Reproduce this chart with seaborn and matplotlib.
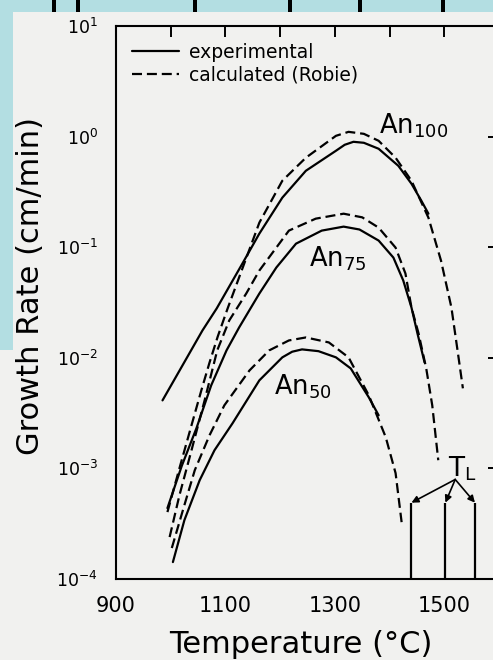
import numpy as np
import pandas as pd
import matplotlib
matplotlib.use("Agg")
import matplotlib.pyplot as plt
import seaborn as sns
from matplotlib.lines import Line2D
from matplotlib.patches import Rectangle
from matplotlib.ticker import FixedLocator, NullLocator, FixedFormatter

# ---------------- data (temperature in °C, log10 of growth rate in cm/min) -------------
an100_exp_T = [985, 1058, 1084, 1131, 1162, 1204, 1247, 1302, 1318, 1334, 1353, 1380, 1416, 1440, 1458, 1471]
an100_exp_log = [-2.385, -1.753, -1.554, -1.148, -0.877, -0.552, -0.309, -0.128, -0.074, -0.047, -0.056, -0.110, -0.264, -0.426, -0.579, -0.697]

an100_calc_T = [994, 1016, 1038, 1056, 1071, 1086, 1104, 1131, 1162, 1204, 1247, 1302, 1325, 1353, 1380, 1411, 1440, 1471, 1494, 1513, 1525, 1534]
an100_calc_log = [-3.395, -2.998, -2.610, -2.294, -2.042, -1.807, -1.554, -1.193, -0.778, -0.399, -0.191, 0.007, 0.043, 0.025, -0.038, -0.191, -0.399, -0.733, -1.121, -1.545, -1.960, -2.276]

an75_exp_T = [994, 1020, 1047, 1074, 1102, 1125, 1162, 1193, 1229, 1276, 1316, 1345, 1380, 1407, 1425, 1440, 1451, 1464]
an75_exp_log = [-3.359, -2.980, -2.637, -2.249, -1.933, -1.726, -1.419, -1.184, -0.968, -0.850, -0.814, -0.840, -0.940, -1.094, -1.301, -1.545, -1.780, -2.042]

an75_calc_T = [998, 1016, 1038, 1062, 1085, 1107, 1138, 1162, 1216, 1265, 1316, 1350, 1380, 1411, 1429, 1440, 1453, 1467, 1478, 1489]
an75_calc_log = [-3.621, -3.242, -2.836, -2.384, -1.933, -1.662, -1.419, -1.211, -0.850, -0.742, -0.697, -0.730, -0.823, -1.004, -1.238, -1.545, -1.780, -2.096, -2.430, -2.926]

an50_exp_T = [1004, 1025, 1053, 1080, 1113, 1162, 1204, 1222, 1240, 1270, 1302, 1329, 1362, 1380]
an50_exp_log = [-3.847, -3.468, -3.106, -2.836, -2.592, -2.204, -1.996, -1.945, -1.924, -1.940, -1.996, -2.096, -2.357, -2.520]

an50_calc_T = [1002, 1025, 1044, 1071, 1098, 1144, 1180, 1216, 1247, 1289, 1325, 1362, 1393, 1411, 1422]
an50_calc_log = [-3.720, -3.332, -3.016, -2.700, -2.430, -2.114, -1.933, -1.843, -1.816, -1.861, -1.996, -2.339, -2.718, -3.043, -3.486]

liquidus_T = [1440, 1502, 1556]
liquidus_top = 4.9e-4

x_ticks = [900, 1000, 1100, 1200, 1300, 1400, 1500, 1600]
x_ticklabels = ["900", "", "1100", "", "1300", "", "1500", ""]
y_ticks = [1e-4, 1e-3, 1e-2, 1e-1, 1e0, 1e1]

# ---------------- build long table ----------------
curves = [
    ("An100", "experimental", an100_exp_T, an100_exp_log),
    ("An100", "calculated", an100_calc_T, an100_calc_log),
    ("An75", "experimental", an75_exp_T, an75_exp_log),
    ("An75", "calculated", an75_calc_T, an75_calc_log),
    ("An50", "experimental", an50_exp_T, an50_exp_log),
    ("An50", "calculated", an50_calc_T, an50_calc_log),
]
frames = []
for comp, kind, T, lg in curves:
    frames.append(pd.DataFrame({"T": T, "rate": 10 ** np.array(lg), "comp": comp, "kind": kind}))
df = pd.concat(frames, ignore_index=True)

# ---------------- style ----------------
sns.set_theme(style="white")
plt.rcParams["font.family"] = ["DejaVu Sans"]
plt.rcParams["mathtext.fontset"] = "dejavusans"
for k in ["text.color", "axes.labelcolor", "xtick.color", "ytick.color", "axes.edgecolor"]:
    plt.rcParams[k] = "black"

paper = "#f1f1ef"
W, H = 493, 660
fig = plt.figure(figsize=(W / 100, H / 100), dpi=100, facecolor=paper)
L_px, R_px, T_px, B_px = 116, 499, 26, 579
ax = fig.add_axes([L_px / W, 1 - B_px / H, (R_px - L_px) / W, (B_px - T_px) / H])
ax.set_facecolor(paper)

lw = 1.6
dash = (0, (4.5, 2.2))
for (comp, kind), sub in df.groupby(["comp", "kind"], sort=False):
    sns.lineplot(data=sub, x="T", y="rate", ax=ax, sort=False, estimator=None,
                 color="black", lw=lw,
                 linestyle="-" if kind == "experimental" else dash,
                 legend=False)

ax.set_yscale("log")
ax.set_xlim(900, 1600)
ax.set_ylim(1e-4, 1e1)

ax.xaxis.set_major_locator(FixedLocator(x_ticks))
ax.xaxis.set_major_formatter(FixedFormatter(x_ticklabels))
ax.xaxis.set_minor_locator(NullLocator())
ax.yaxis.set_major_locator(FixedLocator(y_ticks))
ax.yaxis.set_minor_locator(NullLocator())

ax.tick_params(axis="both", which="major", direction="in", length=8, width=1.4,
               top=True, right=True, color="black", labelcolor="black")
ax.tick_params(axis="x", labelsize=15, pad=12)
ax.tick_params(axis="y", labelsize=12.5, pad=13)
for s in ax.spines.values():
    s.set_color("black")
    s.set_linewidth(1.5)

ax.set_xlabel("Temperature (°C)", fontsize=22, color="black")
ax.set_ylabel("Growth Rate (cm/min)", fontsize=22, color="black")
ax.xaxis.set_label_coords(0.483, -0.093)
ax.yaxis.set_label_coords(-0.185, 0.53)

# legend
handles = [Line2D([], [], color="black", lw=lw, ls="-"),
           Line2D([], [], color="black", lw=lw, ls=dash)]
leg = ax.legend(handles, ["experimental", "calculated (Robie)"], loc="upper left",
                bbox_to_anchor=(0.042, 0.97), frameon=False, fontsize=13.5,
                handlelength=2.5, handletextpad=0.55, borderpad=0, borderaxespad=0,
                labelspacing=0.2)
for t in leg.get_texts():
    t.set_color("black")

# composition labels
ax.text(1380, 10 ** 0.10, "An$_{100}$", fontsize=18.5, ha="left", va="center")
ax.text(1252, 10 ** -1.10, "An$_{75}$", fontsize=18.5, ha="left", va="center")
ax.text(1188, 10 ** -2.26, "An$_{50}$", fontsize=18.5, ha="left", va="center")

# liquidus markers
ax.vlines(liquidus_T, 1e-4, liquidus_top, color="black", lw=lw)
ax.text(1506, 10 ** -3.0, "T$_\\mathregular{L}$", fontsize=19, ha="left", va="center")
for t in liquidus_T:
    ax.annotate("", xy=(t, liquidus_top), xytext=(1520, 10 ** -3.1),
                arrowprops=dict(arrowstyle="-|>", color="black", lw=1.2,
                                mutation_scale=10, shrinkA=0, shrinkB=0))

# scan border decorations (blue frame strips)
blue = "#b3dee2"
fig.patches.append(Rectangle((0, 1 - 12 / H), 1, 12 / H, transform=fig.transFigure,
                             facecolor=blue, edgecolor="none", zorder=5))
fig.patches.append(Rectangle((0, 1 - 350 / H), 13 / W, 350 / H, transform=fig.transFigure,
                             facecolor=blue, edgecolor="none", zorder=5))
for xm in [54, 78, 195, 290, 360, 443]:
    fig.patches.append(Rectangle(((xm - 2) / W, 1 - 12 / H), 4 / W, 12 / H,
                                 transform=fig.transFigure, facecolor="black",
                                 edgecolor="none", zorder=6))

fig.savefig("out.png", dpi=100, facecolor=paper)
